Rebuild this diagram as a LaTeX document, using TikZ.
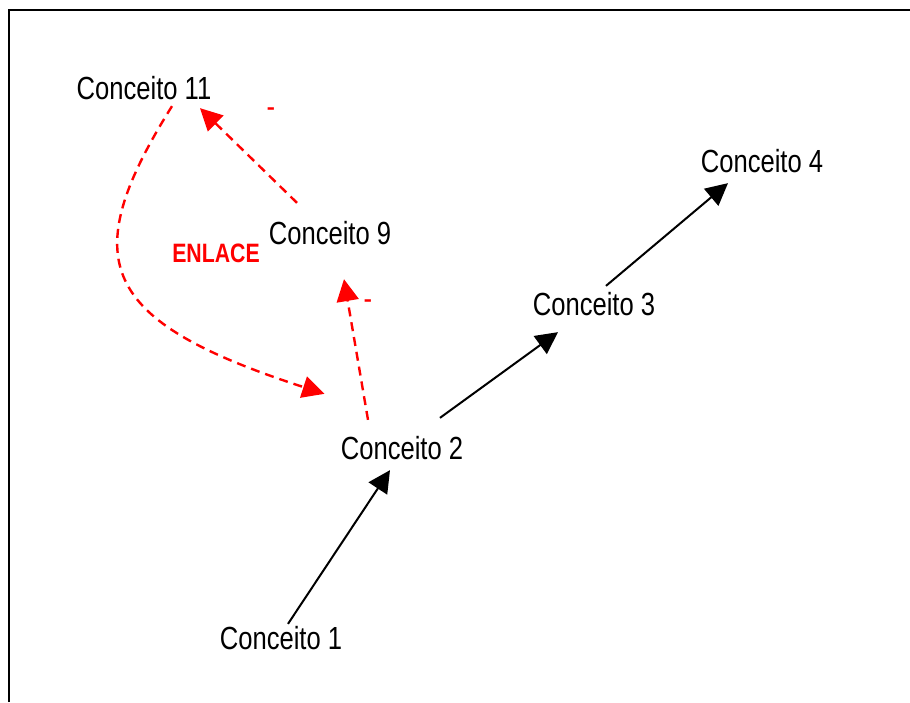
\documentclass[tikz,border=0pt]{standalone}
\usepackage{fontspec}
\setmainfont{Liberation Sans}[FakeStretch=0.8]
\usetikzlibrary{arrows.meta}

\begin{document}
\begin{tikzpicture}[x=0.5pt,y=-0.5pt,conceito/.style={font=\fontsize{16}{18}\selectfont,inner sep=4pt},enlace/.style={font=\fontsize{13.3}{15}\selectfont\bfseries,text=red,inner sep=0pt},sinal/.style={font=\fontsize{16}{18}\selectfont,text=red,inner sep=0pt},liga/.style={line width=1pt,-{Triangle[length=11pt,width=11pt]}},ligavermelha/.style={red,line width=1.2pt,dash pattern=on 4.5pt off 3pt,-{Triangle[length=11pt,width=11pt]}}]
    \useasboundingbox (0,0) rectangle (910,702);
    \draw[line width=1.2pt] (9,702) |- (910,10);
    \node[conceito] (c11) at (144,88) {Conceito 11};
    \node[conceito] (c4) at (762,161) {Conceito 4};
    \node[conceito] (c9) at (330,233) {Conceito 9};
    \node[conceito] (c3) at (594,304) {Conceito 3};
    \node[conceito] (c2) at (402,448) {Conceito 2};
    \node[conceito] (c1) at (281,638) {Conceito 1};
    \node[enlace] (enl) at (216,253) {ENLACE};
    \node[sinal] (s1) at (271,113) {-};
    \node[sinal] (s2) at (368,305) {-};
    \draw[liga] ([xshift=3.5pt,yshift=-3pt]c1.north) -- ([xshift=-6pt,yshift=-1pt]c2.south);
    \draw[liga] ([xshift=19pt,yshift=5pt]c2.north) -- ([xshift=-18pt,yshift=-4pt]c3.south);
    \draw[liga] ([xshift=6pt,yshift=-1pt]c3.north) -- ([xshift=-17pt,yshift=-1pt]c4.south);
    \draw[ligavermelha] ([xshift=-17pt,yshift=4pt]c2.north) -- ([xshift=7pt,yshift=-13pt]c9.south);
    \draw[ligavermelha] ([xshift=-16.5pt,yshift=5pt]c9.north) -- ([xshift=28pt]c11.south);
    \draw[ligavermelha] ([xshift=14pt,yshift=1pt]c11.south) .. controls +(-97,155) and +(-225,-73) .. ([xshift=-4pt,yshift=17pt]c2.north west);
\end{tikzpicture}
\end{document}
